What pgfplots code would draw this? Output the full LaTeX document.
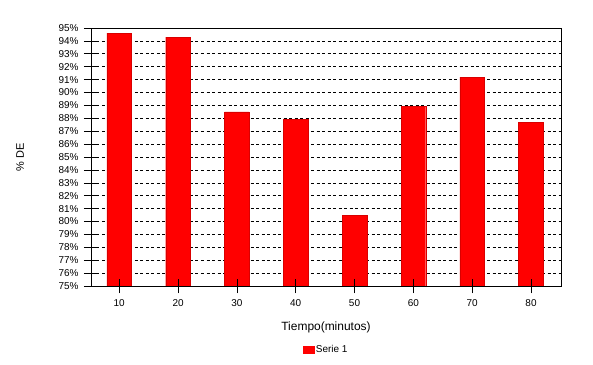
\documentclass[border=0pt]{standalone}
\usepackage{pgfplots}
\pgfplotsset{compat=1.18}
\usepackage{fontspec}
\setmainfont{Liberation Sans}
\begin{document}
\begin{tikzpicture}
\path[use as bounding box] (-91bp,-79bp) rectangle (502bp,286bp);
\begin{axis}[
  at={(0,0)}, anchor=south west,
  scale only axis, width=470bp, height=258bp,
  xmin=5.2, xmax=85.1, ymin=75, ymax=95,
  xtick={10,20,...,80},
  ytick={75,76,...,95},
  xtick pos=lower, ytick pos=left,
  yticklabel={\pgfmathprintnumber{\tick}\%},
  /pgf/number format/assume math mode=true,
  tick label style={font=\fontsize{10}{11}\selectfont},
  xticklabel style={yshift=-3bp},
  yticklabel style={xshift=-2bp},
  tick align=center, major tick length=14bp,
  tick style={black, line width=0.6bp},
  ymajorgrids,
  major grid style={black, line width=0.6bp, dash pattern=on 3bp off 2.5bp},
  axis line style={black, line width=0.8bp},
  xlabel={Tiempo(minutos)},
  xlabel style={at={(axis description cs:0.5,-0.159)}, anchor=center, font=\fontsize{12}{13}\selectfont},
  ylabel={\% DE},
  ylabel style={at={(axis description cs:-0.151,0.5)}, anchor=center, rotate=0, font=\fontsize{11}{12}\selectfont},
  legend style={at={(axis description cs:0.5,-0.248)}, anchor=center, draw=none, fill=none, font=\fontsize{10}{11}\selectfont, inner sep=1bp},
  legend image code/.code={\fill[red] (0bp,-3.5bp) rectangle (11bp,3.5bp);},
]
\addplot[ybar, bar width=4.2, fill=red, draw=red!85!black, line width=0.4bp] coordinates {
  (10,94.6) (20,94.3) (30,88.5) (40,87.9) (50,80.5) (60,88.9) (70,91.2) (80,87.7)
};
\addlegendentry{Serie 1}
\end{axis}
\begin{axis}[
  at={(0,0)}, anchor=south west,
  scale only axis, width=470bp, height=258bp,
  xmin=5.2, xmax=85.1, ymin=75, ymax=95,
  xtick={10,20,...,80}, ytick=\empty,
  xtick pos=lower,
  xticklabels={},
  tick align=center, major tick length=14bp,
  tick style={black, line width=0.6bp},
  axis line style={black, line width=0.8bp},
]
\end{axis}
\end{tikzpicture}
\end{document}
